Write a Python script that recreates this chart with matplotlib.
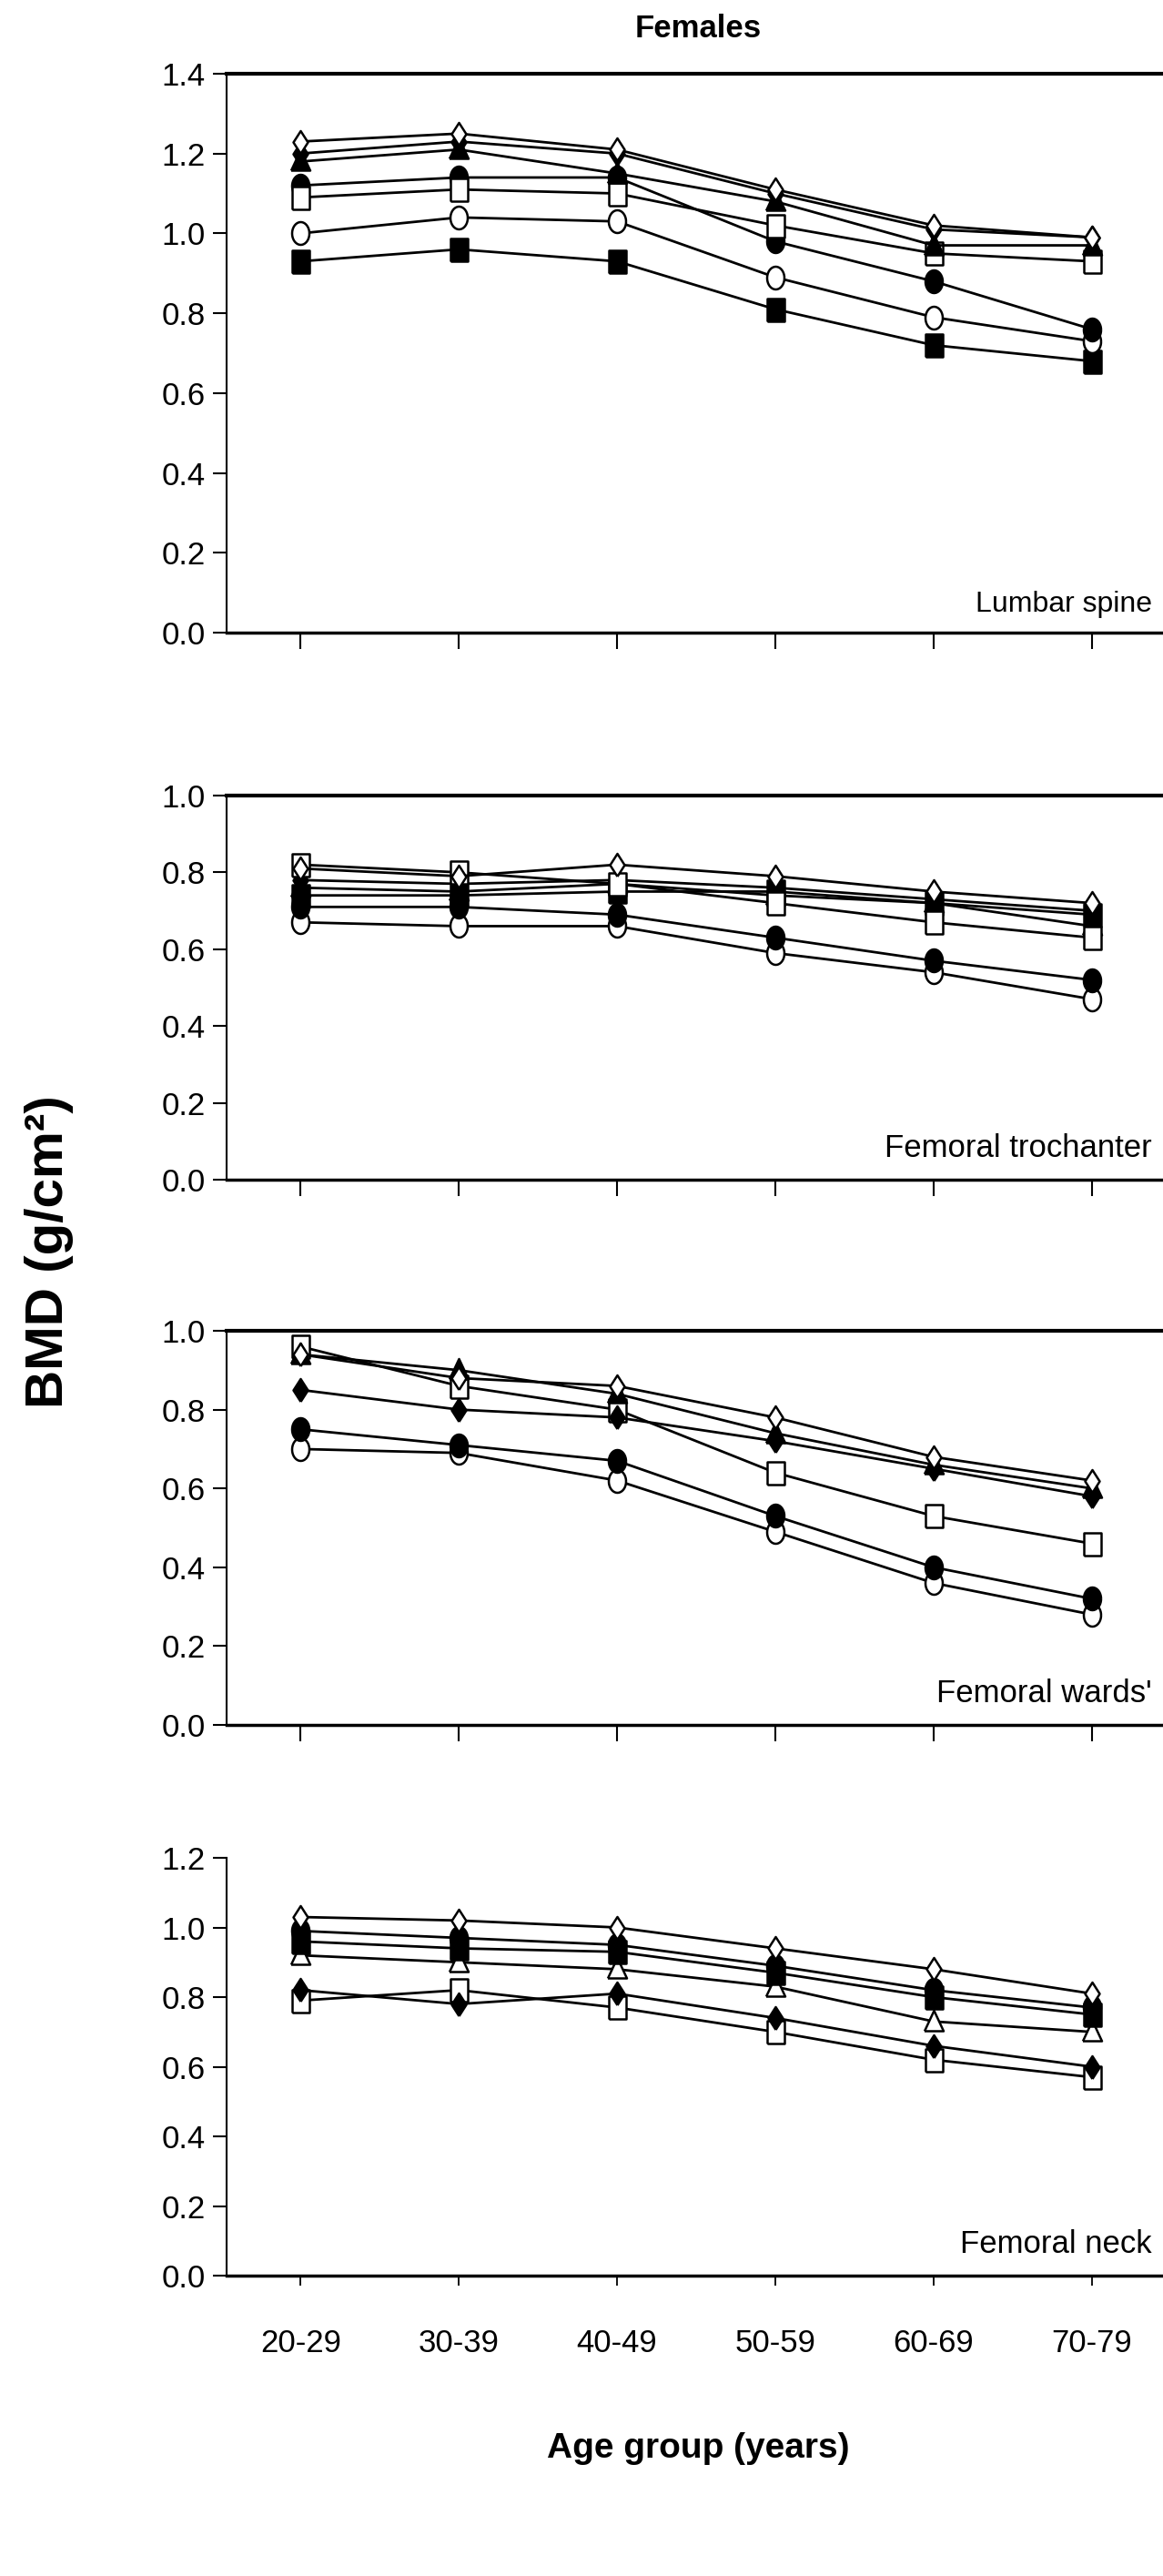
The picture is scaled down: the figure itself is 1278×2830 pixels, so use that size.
import numpy as np
import matplotlib
matplotlib.use('Agg')
import matplotlib.pyplot as plt

plt.rcParams['font.family'] = ['Liberation Sans', 'DejaVu Sans']

ages = ['20-29', '30-39', '40-49', '50-59', '60-69', '70-79']

# Lumbar spine
lumbar_odiamond = [1.23, 1.25, 1.21, 1.11, 1.02, 0.99]
lumbar_fdiamond = [1.20, 1.23, 1.20, 1.10, 1.01, 0.99]
lumbar_ftriangle = [1.18, 1.21, 1.15, 1.08, 0.97, 0.97]
lumbar_fcircle = [1.12, 1.14, 1.14, 0.98, 0.88, 0.76]
lumbar_osquare = [1.09, 1.11, 1.10, 1.02, 0.95, 0.93]
lumbar_ocircle = [1.00, 1.04, 1.03, 0.89, 0.79, 0.73]
lumbar_fsquare = [0.93, 0.96, 0.93, 0.81, 0.72, 0.68]

# Femoral trochanter
troch_odiamond = [0.81, 0.79, 0.82, 0.79, 0.75, 0.72]
troch_osquare = [0.82, 0.80, 0.77, 0.72, 0.67, 0.63]
troch_fdiamond = [0.78, 0.77, 0.78, 0.76, 0.73, 0.70]
troch_ftriangle = [0.76, 0.75, 0.77, 0.74, 0.72, 0.66]
troch_fsquare = [0.74, 0.74, 0.75, 0.75, 0.72, 0.69]
troch_fcircle = [0.71, 0.71, 0.69, 0.63, 0.57, 0.52]
troch_ocircle = [0.67, 0.66, 0.66, 0.59, 0.54, 0.47]

# Femoral wards'
wards_odiamond = [0.94, 0.88, 0.86, 0.78, 0.68, 0.62]
wards_ftriangle = [0.94, 0.90, 0.84, 0.74, 0.66, 0.60]
wards_osquare = [0.96, 0.86, 0.80, 0.64, 0.53, 0.46]
wards_fdiamond = [0.85, 0.80, 0.78, 0.72, 0.65, 0.58]
wards_fcircle = [0.75, 0.71, 0.67, 0.53, 0.40, 0.32]
wards_ocircle = [0.70, 0.69, 0.62, 0.49, 0.36, 0.28]

# Femoral neck
neck_odiamond = [1.03, 1.02, 1.00, 0.94, 0.88, 0.81]
neck_fcircle = [0.99, 0.97, 0.95, 0.89, 0.82, 0.77]
neck_fsquare = [0.96, 0.94, 0.93, 0.87, 0.80, 0.75]
neck_otriangle = [0.92, 0.90, 0.88, 0.83, 0.73, 0.70]
neck_fdiamond = [0.82, 0.78, 0.81, 0.74, 0.66, 0.60]
neck_osquare = [0.79, 0.82, 0.77, 0.70, 0.62, 0.57]

# marker shapes (a bit taller than wide, like the scan)
t = np.linspace(0, 2 * np.pi, 41)
m_circle = list(zip(0.38 * np.cos(t), 0.5 * np.sin(t)))
m_square = [(-0.38, -0.5), (0.38, -0.5), (0.38, 0.5), (-0.38, 0.5), (-0.38, -0.5)]
m_diamond = [(0, -0.5), (0.32, 0), (0, 0.5), (-0.32, 0), (0, -0.5)]
m_triangle = [(-0.42, -0.4), (0.42, -0.4), (0, 0.5), (-0.42, -0.4)]

panels = [
    ('Lumbar spine', 1.4, [
        (lumbar_fsquare, m_square, True), (lumbar_ocircle, m_circle, False),
        (lumbar_fcircle, m_circle, True), (lumbar_osquare, m_square, False),
        (lumbar_ftriangle, m_triangle, True), (lumbar_fdiamond, m_diamond, True),
        (lumbar_odiamond, m_diamond, False)]),
    ('Femoral trochanter', 1.0, [
        (troch_ocircle, m_circle, False), (troch_fcircle, m_circle, True),
        (troch_fsquare, m_square, True), (troch_ftriangle, m_triangle, True),
        (troch_fdiamond, m_diamond, True), (troch_osquare, m_square, False),
        (troch_odiamond, m_diamond, False)]),
    ("Femoral wards'", 1.0, [
        (wards_ocircle, m_circle, False), (wards_fcircle, m_circle, True),
        (wards_osquare, m_square, False), (wards_fdiamond, m_diamond, True),
        (wards_ftriangle, m_triangle, True), (wards_odiamond, m_diamond, False)]),
    ('Femoral neck', 1.2, [
        (neck_osquare, m_square, False), (neck_fdiamond, m_diamond, True),
        (neck_otriangle, m_triangle, False), (neck_fsquare, m_square, True),
        (neck_fcircle, m_circle, True), (neck_odiamond, m_diamond, False)]),
]

# axes boxes in figure fraction: left, bottom, width, height
boxes = [
    [0.195, 0.7544, 0.805, 0.2170],
    [0.195, 0.5420, 0.805, 0.1492],
    [0.195, 0.3304, 0.805, 0.1530],
    [0.195, 0.1166, 0.805, 0.1622],
]

fig = plt.figure(figsize=(12.78, 28.30), dpi=100)
x = np.arange(len(ages))

for i, ((label, ymax, series), box) in enumerate(zip(panels, boxes)):
    ax = fig.add_axes(box)
    for vals, mk, filled in series:
        ax.plot(x, vals, color='black', lw=2, marker=mk, markersize=18,
                markerfacecolor='black' if filled else 'white',
                markeredgecolor='black', markeredgewidth=1.8)
    ax.set_xlim(-0.466, 5.45)
    ax.set_ylim(0, ymax)
    ax.set_yticks(np.arange(0, ymax + 0.01, 0.2))
    ax.set_yticklabels(['%.1f' % v for v in np.arange(0, ymax + 0.01, 0.2)])
    ax.set_xticks(x)
    last = i == len(panels) - 1
    if last:
        ax.set_xticklabels(ages)
        ax.tick_params(axis='x', length=8, width=1.3, pad=34, labelsize=25)
        ax.spines['top'].set_visible(False)
    else:
        ax.set_xticklabels([])
        ax.tick_params(axis='x', length=13, width=1.5)
        ax.spines['top'].set_linewidth(3)
    ax.tick_params(axis='y', length=11, width=1.5, pad=6, labelsize=25)
    ax.spines['right'].set_visible(False)
    ax.spines['left'].set_linewidth(1.5)
    ax.spines['bottom'].set_linewidth(2.5)
    ax.annotate(label, xy=(1, 0), xycoords='axes fraction',
                xytext=(-9, 22 if i == 0 else 25), textcoords='offset points',
                ha='right', va='center', fontsize=23 if i == 0 else 25)

fig.text(0.600, 0.9887, 'Females', ha='center', va='center',
         fontsize=25, fontweight='bold')
fig.text(0.042, 0.514, 'BMD (g/cm²)', rotation=90, ha='center', va='center',
         fontsize=42, fontweight='bold')
fig.text(0.600, 0.0495, 'Age group (years)', ha='center', va='center',
         fontsize=28, fontweight='bold')

fig.savefig('out.png', dpi=100)
